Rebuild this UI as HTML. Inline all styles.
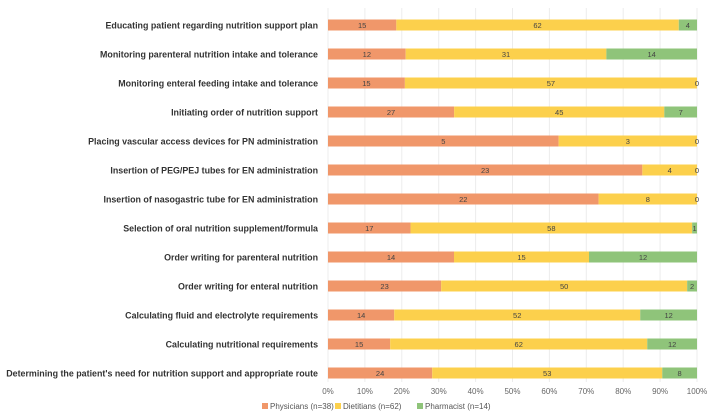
<!DOCTYPE html>
<html><head><meta charset="utf-8">
<style>
body{margin:0;background:#fff;font-family:"Liberation Sans",sans-serif;}
svg text{font-family:"Liberation Sans",sans-serif;}
</style></head>
<body>
<svg width="708" height="413">
<g id="grid"></g>
<g id="bars"></g>
<g id="labels"></g>
<g id="ticks"></g>
<g>
 <rect x="262" y="403" width="6" height="6" fill="#f0976a"/>
 <text x="270" y="409" font-size="8" fill="#555">Physicians (n=38)</text>
 <rect x="335" y="403" width="6" height="6" fill="#fcd04c"/>
 <text x="343" y="409" font-size="8" fill="#555">Dietitians (n=62)</text>
 <rect x="417" y="403" width="6" height="6" fill="#8fc47a"/>
 <text x="425" y="409" font-size="8" fill="#555">Pharmacist (n=14)</text>
</g>
</svg>
<script>
const categories=["Educating patient regarding nutrition support plan","Monitoring parenteral nutrition intake and tolerance","Monitoring enteral feeding intake and tolerance","Initiating order of nutrition support","Placing vascular access devices for PN administration","Insertion of PEG/PEJ tubes for EN administration","Insertion of nasogastric tube for EN administration","Selection of oral nutrition supplement/formula","Order writing for parenteral nutrition","Order writing for enteral nutrition","Calculating fluid and electrolyte requirements","Calculating nutritional requirements","Determining the patient's need for nutrition support and appropriate route"];
const physicians=[15,12,15,27,5,23,22,17,14,23,14,15,24];
const dietitians=[62,31,57,45,3,4,8,58,15,50,52,62,53];
const pharmacist=[4,14,0,7,0,0,0,1,12,2,12,12,8];
const tickLabels=["0%","10%","20%","30%","40%","50%","60%","70%","80%","90%","100%"];
const NS="http://www.w3.org/2000/svg";
const X0=328,X1=697,Y0=25,STEP=29,BH=11;
const xs=p=>X0+(X1-X0)*p;
const ys=i=>Y0+i*STEP;
function mk(tag,attrs,parent){const e=document.createElementNS(NS,tag);for(const k in attrs)e.setAttribute(k,attrs[k]);parent.appendChild(e);return e;}
const grid=document.getElementById('grid'),bars=document.getElementById('bars'),labels=document.getElementById('labels'),ticks=document.getElementById('ticks');
tickLabels.forEach((t,i)=>{
 const x=xs(i/10);
 const l=mk('line',{x1:x,x2:x,y1:8,y2:382,stroke:'#ececec','stroke-width':1},grid);
 
 
 const tx=mk('text',{x:x,y:394,'font-size':8,fill:'#666','text-anchor':'middle'},ticks);
 tx.textContent=t;
 
 
});
const series=[[physicians,'#f0976a','physicians'],[dietitians,'#fcd04c','dietitians'],[pharmacist,'#8fc47a','pharmacist']];
categories.forEach((c,i)=>{
 const y=ys(i);
 const tot=physicians[i]+dietitians[i]+pharmacist[i];
 const lab=mk('text',{x:318,y:y+3.5,'font-size':8.9,'font-weight':'bold',fill:'#333','text-anchor':'end'},labels);
 lab.textContent=c;
 
 
 let cum=0;
 series.forEach(([arr,col,nm])=>{
  const v=arr[i];
  const xa=xs(cum/tot),xb=xs((cum+v)/tot);
  const r=mk('rect',{x:xa,y:y-BH/2,width:Math.max(0,xb-xa),height:BH,fill:col},bars);
  
  
  const vx=v===0?X1:(xa+xb)/2;
  const t=mk('text',{x:vx,y:y+3,'font-size':7.5,fill:'#444','text-anchor':'middle'},bars);
  t.textContent=v;
  
  
  cum+=v;
 });
});
</script>
</body></html>
